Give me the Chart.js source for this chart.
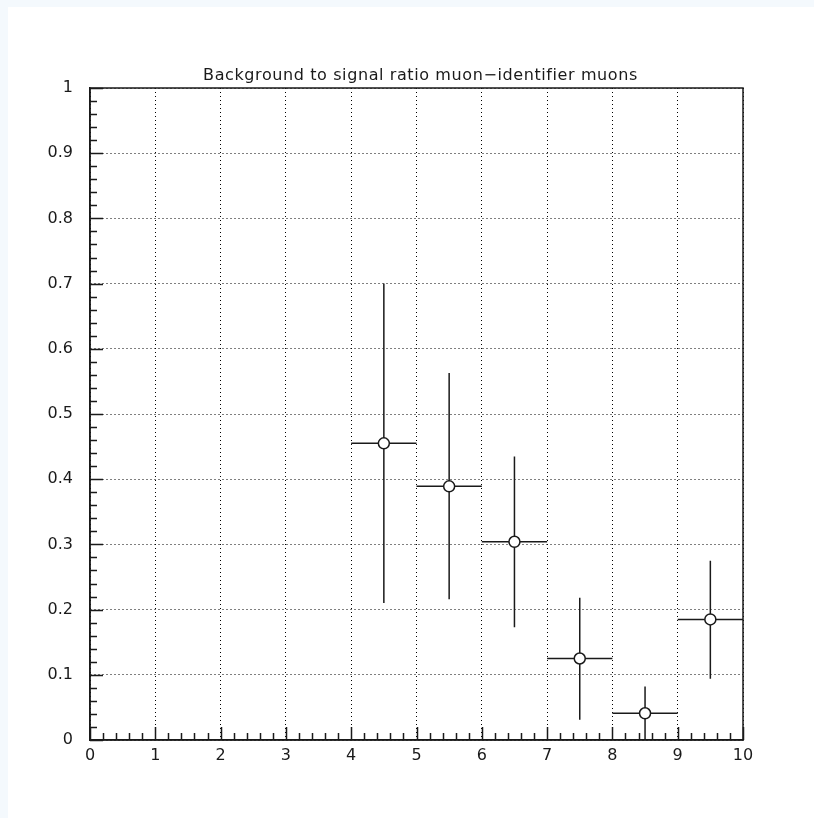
<!DOCTYPE html>
<html>
<head>
<meta charset="utf-8">
<script src="https://cdn.jsdelivr.net/npm/chart.js@4/dist/chart.umd.min.js"></script>
<style>
  html, body { margin: 0; padding: 0; background: #f4f9fd; }
  #wrap { position: absolute; left: 8px; top: 7px; width: 806px; height: 811px; background: #fff; }
</style>
</head>
<body>
<div id="wrap"><canvas id="chart" width="806" height="811"></canvas></div>
<script>
// bin centres and half widths (x error)
const binCenters = [4.5, 5.5, 6.5, 7.5, 8.5, 9.5];
const binHalfWidth = [0.5, 0.5, 0.5, 0.5, 0.5, 0.5];
// ratio values and error bar ends
const ratio = [0.455, 0.389, 0.304, 0.125, 0.041, 0.185];
const ratioHigh = [0.700, 0.563, 0.435, 0.218, 0.082, 0.275];
const ratioLow = [0.210, 0.216, 0.173, 0.031, 0.000, 0.094];
const titleText = "Background to signal ratio muon\u2212identifier muons";

const fontFamily = "'DejaVu Sans', sans-serif";
const ink = "#1a1a1a";

// error bars, drawn under the markers
const errorBars = {
  id: "errorBars",
  beforeDatasetsDraw(chart) {
    const { ctx, scales: { x, y } } = chart;
    ctx.save();
    ctx.strokeStyle = ink;
    ctx.lineWidth = 1.5;
    binCenters.forEach((c, i) => {
      const px = x.getPixelForValue(c);
      const py = y.getPixelForValue(ratio[i]);
      ctx.beginPath();
      ctx.moveTo(x.getPixelForValue(c - binHalfWidth[i]), py);
      ctx.lineTo(x.getPixelForValue(c + binHalfWidth[i]), py);
      ctx.moveTo(px, y.getPixelForValue(ratioHigh[i]));
      ctx.lineTo(px, y.getPixelForValue(ratioLow[i]));
      ctx.stroke();
    });
    ctx.restore();
  }
};

// frame, inward ticks and title
const frameAndTicks = {
  id: "frameAndTicks",
  afterDraw(chart) {
    const { ctx, chartArea: a, scales: { x, y } } = chart;
    ctx.save();
    ctx.strokeStyle = ink;
    ctx.lineWidth = 1.5;
    ctx.strokeRect(a.left, a.top, a.right - a.left, a.bottom - a.top);
    ctx.beginPath();
    for (let k = 0; k <= 50; k++) {
      const v = k * 0.2;
      const px = Math.round(x.getPixelForValue(v)) + 0.5;
      const len = k % 5 === 0 ? 13 : 7;
      ctx.moveTo(px, a.bottom);
      ctx.lineTo(px, a.bottom - len);
    }
    for (let k = 0; k <= 50; k++) {
      const v = k * 0.02;
      const py = Math.round(y.getPixelForValue(v)) + 0.5;
      const len = k % 5 === 0 ? 13 : 7;
      ctx.moveTo(a.left, py);
      ctx.lineTo(a.left + len, py);
    }
    ctx.stroke();
    ctx.fillStyle = ink;
    ctx.font = "16px " + fontFamily;
    ctx.letterSpacing = "0.6px";
    ctx.textAlign = "center";
    ctx.textBaseline = "alphabetic";
    ctx.fillText(titleText, (a.left + a.right) / 2 + 4, a.top - 8);
    ctx.restore();
  }
};

new Chart(document.getElementById("chart"), {
  type: "scatter",
  data: {
    datasets: [{
      data: binCenters.map((c, i) => ({ x: c, y: ratio[i] })),
      pointRadius: 5.5,
      pointHoverRadius: 5.5,
      pointBackgroundColor: "#fff",
      pointBorderColor: ink,
      pointBorderWidth: 1.5
    }]
  },
  options: {
    responsive: false,
    animation: false,
    events: [],
    layout: { padding: { left: 0, top: 81, right: 71, bottom: 0 } },
    plugins: { legend: { display: false }, title: { display: false }, tooltip: { enabled: false } },
    scales: {
      x: {
        type: "linear", min: 0, max: 10,
        afterFit: s => { s.height = 78; },
        ticks: { stepSize: 1, padding: 6, color: ink, font: { family: fontFamily, size: 16 } },
        grid: { color: "#000", lineWidth: 1, drawTicks: false },
        border: { display: true, color: ink, width: 1.5, dash: [1, 3] }
      },
      y: {
        type: "linear", min: 0, max: 1,
        afterFit: s => { s.width = 82; },
        ticks: {
          stepSize: 0.1, padding: 17, color: ink, font: { family: fontFamily, size: 16 },
          callback: v => String(Number(v.toFixed(1)))
        },
        grid: { color: "#000", lineWidth: 1, drawTicks: false },
        border: { display: true, color: ink, width: 1.5, dash: [1, 3] }
      }
    }
  },
  plugins: [errorBars, frameAndTicks]
});
</script>
</body>
</html>
